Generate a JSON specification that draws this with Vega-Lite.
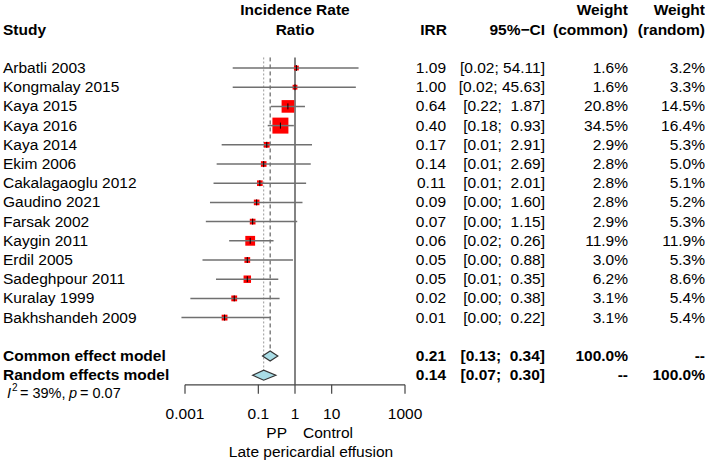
{
  "$schema": "https://vega.github.io/schema/vega-lite/v6.json",
  "padding": 0,
  "spacing": 0,
  "bounds": "flush",
  "config": {
    "view": {"stroke": null},
    "text": {"font": "Liberation Sans", "fontSize": 15.5, "color": "#000000"}
  },
  "datasets": {
    "studies": [
      {"study": "Arbatli 2003", "row": 1, "irr": 1.09, "lo": 0.02, "hi": 54.11, "ci": "[0.02; 54.11]", "wc": 0.016, "wr": 0.032},
      {"study": "Kongmalay 2015", "row": 2, "irr": 1.00, "lo": 0.02, "hi": 45.63, "ci": "[0.02; 45.63]", "wc": 0.016, "wr": 0.033},
      {"study": "Kaya 2015", "row": 3, "irr": 0.64, "lo": 0.22, "hi": 1.87, "ci": "[0.22; \u00a01.87]", "wc": 0.208, "wr": 0.145},
      {"study": "Kaya 2016", "row": 4, "irr": 0.40, "lo": 0.18, "hi": 0.93, "ci": "[0.18; \u00a00.93]", "wc": 0.345, "wr": 0.164},
      {"study": "Kaya 2014", "row": 5, "irr": 0.17, "lo": 0.01, "hi": 2.91, "ci": "[0.01; \u00a02.91]", "wc": 0.029, "wr": 0.053},
      {"study": "Ekim 2006", "row": 6, "irr": 0.14, "lo": 0.0073, "hi": 2.69, "ci": "[0.01; \u00a02.69]", "wc": 0.028, "wr": 0.050},
      {"study": "Cakalagaoglu 2012", "row": 7, "irr": 0.11, "lo": 0.006, "hi": 2.01, "ci": "[0.01; \u00a02.01]", "wc": 0.028, "wr": 0.051},
      {"study": "Gaudino 2021", "row": 8, "irr": 0.09, "lo": 0.0048, "hi": 1.60, "ci": "[0.00; \u00a01.60]", "wc": 0.028, "wr": 0.052},
      {"study": "Farsak 2002", "row": 9, "irr": 0.07, "lo": 0.0037, "hi": 1.15, "ci": "[0.00; \u00a01.15]", "wc": 0.029, "wr": 0.053},
      {"study": "Kaygin 2011", "row": 10, "irr": 0.06, "lo": 0.016, "hi": 0.26, "ci": "[0.02; \u00a00.26]", "wc": 0.119, "wr": 0.119},
      {"study": "Erdil 2005", "row": 11, "irr": 0.05, "lo": 0.003, "hi": 0.88, "ci": "[0.00; \u00a00.88]", "wc": 0.030, "wr": 0.053},
      {"study": "Sadeghpour 2011", "row": 12, "irr": 0.05, "lo": 0.007, "hi": 0.35, "ci": "[0.01; \u00a00.35]", "wc": 0.062, "wr": 0.086},
      {"study": "Kuralay 1999", "row": 13, "irr": 0.022, "lo": 0.0014, "hi": 0.38, "ci": "[0.00; \u00a00.38]", "wc": 0.031, "wr": 0.054},
      {"study": "Bakhshandeh 2009", "row": 14, "irr": 0.012, "lo": 0.0008, "hi": 0.22, "ci": "[0.00; \u00a00.22]", "wc": 0.031, "wr": 0.054}
    ],
    "summary": [
      {"model": "Common effect model", "row": 16, "est": 0.21, "lo": 0.13, "hi": 0.34, "ci": "[0.13; \u00a00.34]", "wcText": "100.0%", "wrText": "--"},
      {"model": "Random effects model", "row": 17, "est": 0.14, "lo": 0.07, "hi": 0.30, "ci": "[0.07; \u00a00.30]", "wcText": "--", "wrText": "100.0%"}
    ],
    "diamonds": [
      {"model": "common", "x": 0.13, "ytop": 16, "ybot": 16},
      {"model": "common", "x": 0.21, "ytop": 15.74, "ybot": 16.26},
      {"model": "common", "x": 0.34, "ytop": 16, "ybot": 16},
      {"model": "random", "x": 0.07, "ytop": 17, "ybot": 17},
      {"model": "random", "x": 0.14, "ytop": 16.74, "ybot": 17.26},
      {"model": "random", "x": 0.30, "ytop": 17, "ybot": 17}
    ],
    "ticks": [
      {"t": 0.001, "label": "0.001"},
      {"t": 0.1, "label": "0.1"},
      {"t": 1, "label": "1"},
      {"t": 10, "label": "10"},
      {"t": 1000, "label": "1000"}
    ]
  },
  "hconcat": [
    {
      "width": 185,
      "height": 464,
      "layer": [
        {
          "data": {"values": [{"label": "Study", "row": -1}]},
          "mark": {"type": "text", "align": "left", "dx": 3, "fontWeight": "bold"},
          "encoding": {
            "x": {"value": 0},
            "y": {"field": "row", "type": "quantitative", "scale": {"domain": [-2.5417, 21.625], "reverse": true, "nice": false, "zero": false}, "axis": null},
            "text": {"field": "label"}
          }
        },
        {
          "data": {"name": "studies"},
          "mark": {"type": "text", "align": "left", "dx": 3},
          "encoding": {
            "x": {"value": 0},
            "y": {"field": "row", "type": "quantitative", "scale": {"domain": [-2.5417, 21.625], "reverse": true, "nice": false, "zero": false}, "axis": null},
            "text": {"field": "study"}
          }
        },
        {
          "data": {"name": "summary"},
          "mark": {"type": "text", "align": "left", "dx": 3, "fontWeight": "bold"},
          "encoding": {
            "x": {"value": 0},
            "y": {"field": "row", "type": "quantitative", "scale": {"domain": [-2.5417, 21.625], "reverse": true, "nice": false, "zero": false}, "axis": null},
            "text": {"field": "model"}
          }
        },
        {
          "data": {"values": [{"label": "I", "row": 18}]},
          "mark": {"type": "text", "align": "left", "dx": 7, "fontStyle": "italic", "fontSize": 14.5},
          "encoding": {
            "x": {"value": 0},
            "y": {"field": "row", "type": "quantitative", "scale": {"domain": [-2.5417, 21.625], "reverse": true, "nice": false, "zero": false}, "axis": null},
            "text": {"field": "label"}
          }
        },
        {
          "data": {"values": [{"label": "2", "row": 18}]},
          "mark": {"type": "text", "align": "left", "dx": 12, "dy": -6, "fontSize": 10},
          "encoding": {
            "x": {"value": 0},
            "y": {"field": "row", "type": "quantitative", "scale": {"domain": [-2.5417, 21.625], "reverse": true, "nice": false, "zero": false}, "axis": null},
            "text": {"field": "label"}
          }
        },
        {
          "data": {"values": [{"label": "= 39%,", "row": 18}]},
          "mark": {"type": "text", "align": "left", "dx": 20, "fontSize": 14.5},
          "encoding": {
            "x": {"value": 0},
            "y": {"field": "row", "type": "quantitative", "scale": {"domain": [-2.5417, 21.625], "reverse": true, "nice": false, "zero": false}, "axis": null},
            "text": {"field": "label"}
          }
        },
        {
          "data": {"values": [{"label": "p", "row": 18}]},
          "mark": {"type": "text", "align": "left", "dx": 69, "fontStyle": "italic", "fontSize": 14.5},
          "encoding": {
            "x": {"value": 0},
            "y": {"field": "row", "type": "quantitative", "scale": {"domain": [-2.5417, 21.625], "reverse": true, "nice": false, "zero": false}, "axis": null},
            "text": {"field": "label"}
          }
        },
        {
          "data": {"values": [{"label": "= 0.07", "row": 18}]},
          "mark": {"type": "text", "align": "left", "dx": 80, "fontSize": 14.5},
          "encoding": {
            "x": {"value": 0},
            "y": {"field": "row", "type": "quantitative", "scale": {"domain": [-2.5417, 21.625], "reverse": true, "nice": false, "zero": false}, "axis": null},
            "text": {"field": "label"}
          }
        }
      ]
    },
    {
      "width": 220,
      "height": 464,
      "layer": [
        {
          "data": {"values": [{"x": 1, "y1": 0.45, "y2": 17.5}]},
          "mark": {"type": "rule", "color": "#5a5a5a", "strokeWidth": 1.5},
          "encoding": {
            "x": {"field": "x", "type": "quantitative", "scale": {"type": "log", "domain": [0.001, 1000], "nice": false}, "axis": null},
            "y": {"field": "y1", "type": "quantitative", "scale": {"domain": [-2.5417, 21.625], "reverse": true, "nice": false, "zero": false}, "axis": null},
            "y2": {"field": "y2"}
          }
        },
        {
          "data": {"values": [{"x": 0.21, "y1": 0.45, "y2": 15.74}]},
          "mark": {"type": "rule", "color": "#444444", "strokeWidth": 1, "strokeDash": [4, 3]},
          "encoding": {
            "x": {"field": "x", "type": "quantitative", "scale": {"type": "log", "domain": [0.001, 1000], "nice": false}, "axis": null},
            "y": {"field": "y1", "type": "quantitative", "scale": {"domain": [-2.5417, 21.625], "reverse": true, "nice": false, "zero": false}, "axis": null},
            "y2": {"field": "y2"}
          }
        },
        {
          "data": {"values": [{"x": 0.14, "y1": 0.45, "y2": 16.74}]},
          "mark": {"type": "rule", "color": "#9a9a9a", "strokeWidth": 1, "strokeDash": [2, 2]},
          "encoding": {
            "x": {"field": "x", "type": "quantitative", "scale": {"type": "log", "domain": [0.001, 1000], "nice": false}, "axis": null},
            "y": {"field": "y1", "type": "quantitative", "scale": {"domain": [-2.5417, 21.625], "reverse": true, "nice": false, "zero": false}, "axis": null},
            "y2": {"field": "y2"}
          }
        },
        {
          "data": {"name": "studies"},
          "mark": {"type": "point", "shape": "square", "filled": true, "color": "#ff0000", "opacity": 1},
          "encoding": {
            "x": {"field": "irr", "type": "quantitative", "scale": {"type": "log", "domain": [0.001, 1000], "nice": false}, "axis": null},
            "y": {"field": "row", "type": "quantitative", "scale": {"domain": [-2.5417, 21.625], "reverse": true, "nice": false, "zero": false}, "axis": null},
            "size": {"field": "wc", "type": "quantitative", "scale": {"domain": [0, 0.345], "range": [12, 256]}, "legend": null}
          }
        },
        {
          "data": {"name": "studies"},
          "mark": {"type": "rule", "color": "#707070", "strokeWidth": 1.5},
          "encoding": {
            "x": {"field": "lo", "type": "quantitative", "scale": {"type": "log", "domain": [0.001, 1000], "nice": false}, "axis": null},
            "x2": {"field": "hi"},
            "y": {"field": "row", "type": "quantitative", "scale": {"domain": [-2.5417, 21.625], "reverse": true, "nice": false, "zero": false}, "axis": null}
          }
        },
        {
          "data": {"name": "studies"},
          "mark": {"type": "point", "shape": "M0,-1L0,1", "filled": false, "stroke": "#000000", "strokeWidth": 1, "size": 36, "opacity": 1},
          "encoding": {
            "x": {"field": "irr", "type": "quantitative", "scale": {"type": "log", "domain": [0.001, 1000], "nice": false}, "axis": null},
            "y": {"field": "row", "type": "quantitative", "scale": {"domain": [-2.5417, 21.625], "reverse": true, "nice": false, "zero": false}, "axis": null}
          }
        },
        {
          "data": {"name": "diamonds"},
          "mark": {"type": "area", "fill": "#a9dde6", "stroke": "#333333", "strokeWidth": 1.2, "opacity": 1, "fillOpacity": 1},
          "encoding": {
            "x": {"field": "x", "type": "quantitative", "scale": {"type": "log", "domain": [0.001, 1000], "nice": false}, "axis": null},
            "y": {"field": "ytop", "type": "quantitative", "scale": {"domain": [-2.5417, 21.625], "reverse": true, "nice": false, "zero": false}, "axis": null},
            "y2": {"field": "ybot"},
            "detail": {"field": "model"}
          }
        },
        {
          "data": {"values": [{"from": 0.001, "to": 1000, "row": 17.5}]},
          "mark": {"type": "rule", "color": "#444444", "strokeWidth": 1.2},
          "encoding": {
            "x": {"field": "from", "type": "quantitative", "scale": {"type": "log", "domain": [0.001, 1000], "nice": false}, "axis": null},
            "x2": {"field": "to"},
            "y": {"field": "row", "type": "quantitative", "scale": {"domain": [-2.5417, 21.625], "reverse": true, "nice": false, "zero": false}, "axis": null}
          }
        },
        {
          "data": {"name": "ticks"},
          "mark": {"type": "rule", "color": "#444444", "strokeWidth": 1.2},
          "encoding": {
            "x": {"field": "t", "type": "quantitative", "scale": {"type": "log", "domain": [0.001, 1000], "nice": false}, "axis": null},
            "y": {"datum": 17.5, "type": "quantitative", "scale": {"domain": [-2.5417, 21.625], "reverse": true, "nice": false, "zero": false}, "axis": null},
            "y2": {"datum": 17.97}
          }
        },
        {
          "data": {"name": "ticks"},
          "mark": {"type": "text", "align": "center"},
          "encoding": {
            "x": {"field": "t", "type": "quantitative", "scale": {"type": "log", "domain": [0.001, 1000], "nice": false}, "axis": null},
            "y": {"datum": 19, "type": "quantitative", "scale": {"domain": [-2.5417, 21.625], "reverse": true, "nice": false, "zero": false}, "axis": null},
            "text": {"field": "label"}
          }
        },
        {
          "data": {"values": [{"label": "PP", "x": 1, "row": 20}]},
          "mark": {"type": "text", "align": "right", "dx": -8},
          "encoding": {
            "x": {"field": "x", "type": "quantitative", "scale": {"type": "log", "domain": [0.001, 1000], "nice": false}, "axis": null},
            "y": {"field": "row", "type": "quantitative", "scale": {"domain": [-2.5417, 21.625], "reverse": true, "nice": false, "zero": false}, "axis": null},
            "text": {"field": "label"}
          }
        },
        {
          "data": {"values": [{"label": "Control", "x": 1, "row": 20}]},
          "mark": {"type": "text", "align": "left", "dx": 8},
          "encoding": {
            "x": {"field": "x", "type": "quantitative", "scale": {"type": "log", "domain": [0.001, 1000], "nice": false}, "axis": null},
            "y": {"field": "row", "type": "quantitative", "scale": {"domain": [-2.5417, 21.625], "reverse": true, "nice": false, "zero": false}, "axis": null},
            "text": {"field": "label"}
          }
        },
        {
          "data": {"values": [{"label": "Late pericardial effusion", "x": 1, "row": 21}]},
          "mark": {"type": "text", "align": "center", "dx": 16},
          "encoding": {
            "x": {"field": "x", "type": "quantitative", "scale": {"type": "log", "domain": [0.001, 1000], "nice": false}, "axis": null},
            "y": {"field": "row", "type": "quantitative", "scale": {"domain": [-2.5417, 21.625], "reverse": true, "nice": false, "zero": false}, "axis": null},
            "text": {"field": "label"}
          }
        },
        {
          "data": {"values": [{"label": "Incidence Rate", "x": 1, "row": -2}, {"label": "Ratio", "x": 1, "row": -1}]},
          "mark": {"type": "text", "align": "center", "fontWeight": "bold"},
          "encoding": {
            "x": {"field": "x", "type": "quantitative", "scale": {"type": "log", "domain": [0.001, 1000], "nice": false}, "axis": null},
            "y": {"field": "row", "type": "quantitative", "scale": {"domain": [-2.5417, 21.625], "reverse": true, "nice": false, "zero": false}, "axis": null},
            "text": {"field": "label"}
          }
        }
      ]
    },
    {
      "width": 41,
      "height": 464,
      "layer": [
        {
          "data": {"values": [{"label": "IRR", "row": -1}]},
          "mark": {"type": "text", "align": "right", "dx": 1, "fontWeight": "bold"},
          "encoding": {
            "x": {"value": "width"},
            "y": {"field": "row", "type": "quantitative", "scale": {"domain": [-2.5417, 21.625], "reverse": true, "nice": false, "zero": false}, "axis": null},
            "text": {"field": "label"}
          }
        },
        {
          "data": {"name": "studies"},
          "mark": {"type": "text", "align": "right"},
          "encoding": {
            "x": {"value": "width"},
            "y": {"field": "row", "type": "quantitative", "scale": {"domain": [-2.5417, 21.625], "reverse": true, "nice": false, "zero": false}, "axis": null},
            "text": {"field": "irr", "type": "quantitative", "format": ".2f"}
          }
        },
        {
          "data": {"name": "summary"},
          "mark": {"type": "text", "align": "right", "fontWeight": "bold"},
          "encoding": {
            "x": {"value": "width"},
            "y": {"field": "row", "type": "quantitative", "scale": {"domain": [-2.5417, 21.625], "reverse": true, "nice": false, "zero": false}, "axis": null},
            "text": {"field": "est", "type": "quantitative", "format": ".2f"}
          }
        }
      ]
    },
    {
      "width": 99,
      "height": 464,
      "layer": [
        {
          "data": {"values": [{"label": "95%\u2212CI", "row": -1}]},
          "mark": {"type": "text", "align": "right", "fontWeight": "bold"},
          "encoding": {
            "x": {"value": "width"},
            "y": {"field": "row", "type": "quantitative", "scale": {"domain": [-2.5417, 21.625], "reverse": true, "nice": false, "zero": false}, "axis": null},
            "text": {"field": "label"}
          }
        },
        {
          "data": {"name": "studies"},
          "mark": {"type": "text", "align": "right"},
          "encoding": {
            "x": {"value": "width"},
            "y": {"field": "row", "type": "quantitative", "scale": {"domain": [-2.5417, 21.625], "reverse": true, "nice": false, "zero": false}, "axis": null},
            "text": {"field": "ci"}
          }
        },
        {
          "data": {"name": "summary"},
          "mark": {"type": "text", "align": "right", "fontWeight": "bold"},
          "encoding": {
            "x": {"value": "width"},
            "y": {"field": "row", "type": "quantitative", "scale": {"domain": [-2.5417, 21.625], "reverse": true, "nice": false, "zero": false}, "axis": null},
            "text": {"field": "ci"}
          }
        }
      ]
    },
    {
      "width": 83,
      "height": 464,
      "layer": [
        {
          "data": {"values": [{"label": "Weight", "row": -2}, {"label": "(common)", "row": -1}]},
          "mark": {"type": "text", "align": "right", "fontWeight": "bold"},
          "encoding": {
            "x": {"value": "width"},
            "y": {"field": "row", "type": "quantitative", "scale": {"domain": [-2.5417, 21.625], "reverse": true, "nice": false, "zero": false}, "axis": null},
            "text": {"field": "label"}
          }
        },
        {
          "data": {"name": "studies"},
          "mark": {"type": "text", "align": "right"},
          "encoding": {
            "x": {"value": "width"},
            "y": {"field": "row", "type": "quantitative", "scale": {"domain": [-2.5417, 21.625], "reverse": true, "nice": false, "zero": false}, "axis": null},
            "text": {"field": "wc", "type": "quantitative", "format": ".1%"}
          }
        },
        {
          "data": {"name": "summary"},
          "mark": {"type": "text", "align": "right", "fontWeight": "bold"},
          "encoding": {
            "x": {"value": "width"},
            "y": {"field": "row", "type": "quantitative", "scale": {"domain": [-2.5417, 21.625], "reverse": true, "nice": false, "zero": false}, "axis": null},
            "text": {"field": "wcText"}
          }
        }
      ]
    },
    {
      "width": 77,
      "height": 464,
      "layer": [
        {
          "data": {"values": [{"label": "Weight", "row": -2}, {"label": "(random)", "row": -1}]},
          "mark": {"type": "text", "align": "right", "fontWeight": "bold"},
          "encoding": {
            "x": {"value": "width"},
            "y": {"field": "row", "type": "quantitative", "scale": {"domain": [-2.5417, 21.625], "reverse": true, "nice": false, "zero": false}, "axis": null},
            "text": {"field": "label"}
          }
        },
        {
          "data": {"name": "studies"},
          "mark": {"type": "text", "align": "right"},
          "encoding": {
            "x": {"value": "width"},
            "y": {"field": "row", "type": "quantitative", "scale": {"domain": [-2.5417, 21.625], "reverse": true, "nice": false, "zero": false}, "axis": null},
            "text": {"field": "wr", "type": "quantitative", "format": ".1%"}
          }
        },
        {
          "data": {"name": "summary"},
          "mark": {"type": "text", "align": "right", "fontWeight": "bold"},
          "encoding": {
            "x": {"value": "width"},
            "y": {"field": "row", "type": "quantitative", "scale": {"domain": [-2.5417, 21.625], "reverse": true, "nice": false, "zero": false}, "axis": null},
            "text": {"field": "wrText"}
          }
        }
      ]
    }
  ]
}
